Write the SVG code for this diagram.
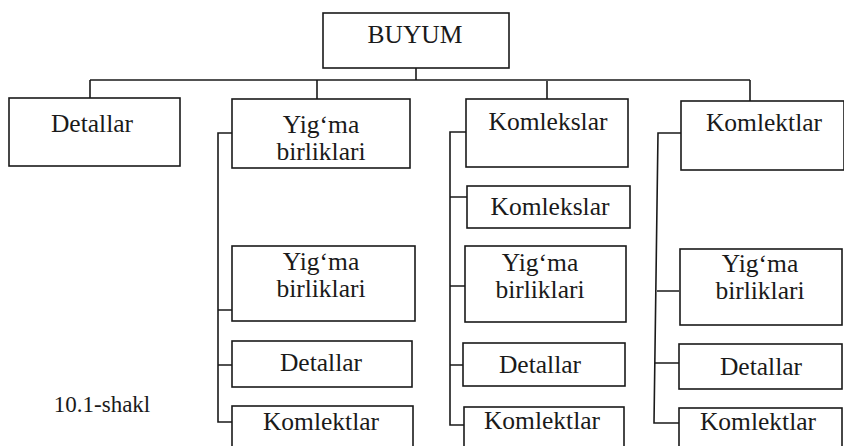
<svg xmlns="http://www.w3.org/2000/svg" width="844" height="446" viewBox="0 0 844 446">
<style>
.box{fill:#fff;stroke:#1a1a1a;stroke-width:1.6}
.t{font-family:"Liberation Serif","Times New Roman",serif;font-size:25.5px;fill:#1a1a1a;text-anchor:middle}
.c{fill:none;stroke:#1a1a1a;stroke-width:1.6}
</style>
<rect width="844" height="446" fill="#fff"/>
<g id="connectors">
<path class="c" d="M416 68V80M90 80H750M90 80V98M317 80V99M547 81V99M750 80V101"/>
<path class="c" d="M232 133H218V422H232M218 310H232M218 365H232"/>
<path class="c" d="M466 132H450V425H464M450 197H467M450 286H465M450 365H463"/>
<path class="c" d="M681 133H658L654 423H679M657 291H679M655 363H679"/>
</g>
<g id="n-buyum"><rect class="box" x="323" y="13" width="186" height="55"/><text class="t" x="415" y="43">BUYUM</text></g>
<g id="n-detallar"><rect class="box" x="9" y="98" width="171" height="68"/><text class="t" x="92" y="132">Detallar</text></g>
<g id="n-yigma"><rect class="box" x="232" y="99" width="178" height="69"/><text class="t" x="321" y="133">Yig‘ma</text><text class="t" x="321" y="160">birliklari</text></g>
<g id="n-komlekslar"><rect class="box" x="466" y="99" width="162" height="68"/><text class="t" x="548" y="130">Komlekslar</text></g>
<g id="n-komlektlar"><rect class="box" x="681" y="101" width="163" height="69"/><text class="t" x="764" y="131">Komlektlar</text></g>
<g id="n-c2-yigma"><rect class="box" x="232" y="246" width="183" height="75"/><text class="t" x="321" y="270">Yig‘ma</text><text class="t" x="321" y="297">birliklari</text></g>
<g id="n-c2-detallar"><rect class="box" x="232" y="341" width="180" height="46"/><text class="t" x="321" y="371">Detallar</text></g>
<g id="n-c2-komlektlar"><rect class="box" x="232" y="406" width="181" height="50"/><text class="t" x="321" y="430">Komlektlar</text></g>
<g id="n-c3-komlekslar"><rect class="box" x="467" y="186" width="163" height="42"/><text class="t" x="550" y="215">Komlekslar</text></g>
<g id="n-c3-yigma"><rect class="box" x="465" y="246" width="161" height="76"/><text class="t" x="540" y="271">Yig‘ma</text><text class="t" x="540" y="298">birliklari</text></g>
<g id="n-c3-detallar"><rect class="box" x="463" y="343" width="162" height="43"/><text class="t" x="540" y="373">Detallar</text></g>
<g id="n-c3-komlektlar"><rect class="box" x="464" y="407" width="160" height="50"/><text class="t" x="542" y="429">Komlektlar</text></g>
<g id="n-c4-yigma"><rect class="box" x="680" y="249" width="162" height="76"/><text class="t" x="760" y="272">Yig‘ma</text><text class="t" x="760" y="299">birliklari</text></g>
<g id="n-c4-detallar"><rect class="box" x="679" y="344" width="163" height="45"/><text class="t" x="761" y="375">Detallar</text></g>
<g id="n-c4-komlektlar"><rect class="box" x="679" y="408" width="163" height="50"/><text class="t" x="758" y="430">Komlektlar</text></g>
<text class="t" x="102" y="412" style="font-size:23px">10.1-shakl</text>
</svg>
